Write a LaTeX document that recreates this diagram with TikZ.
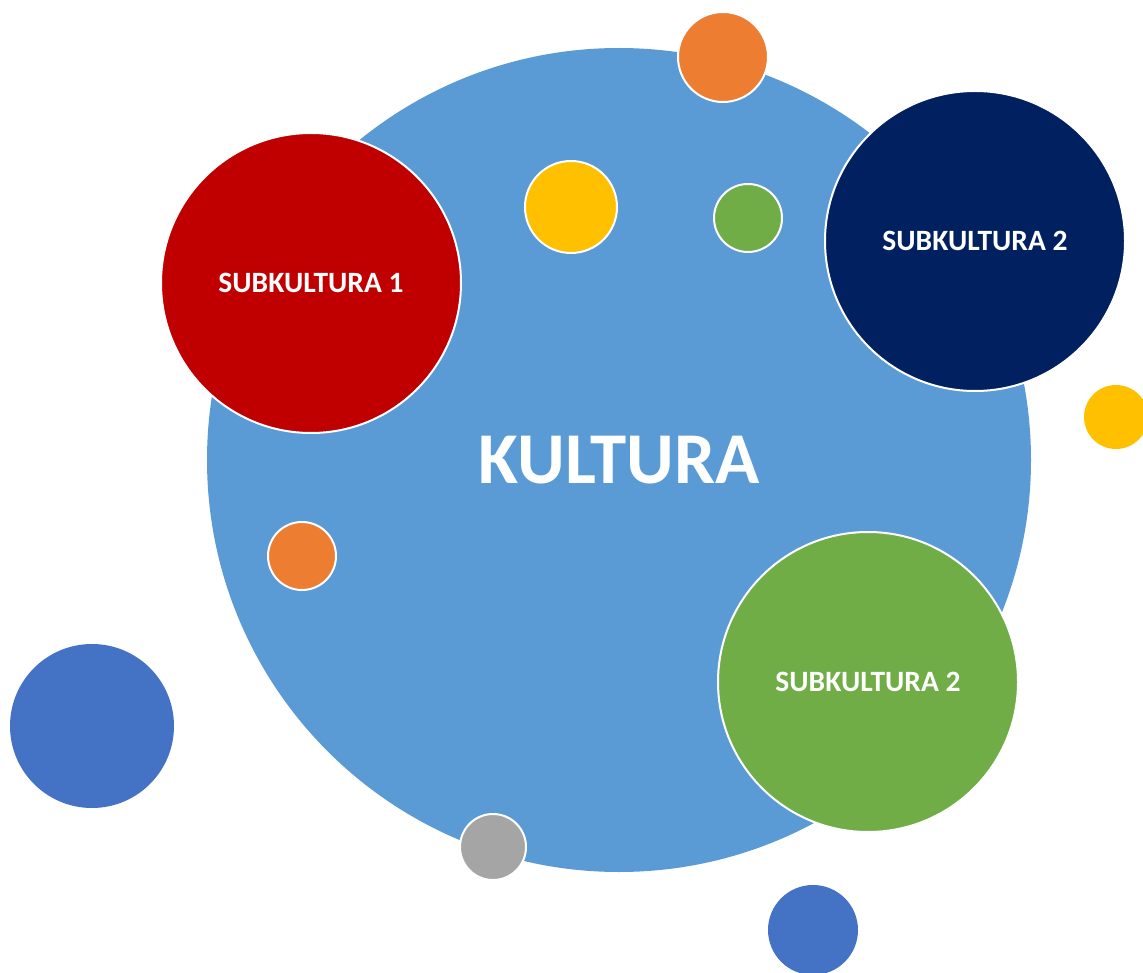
\documentclass[tikz,border=0pt]{standalone}
\usepackage{fontspec}
\setmainfont{Carlito}
\definecolor{kblue}{HTML}{5B9BD5}
\definecolor{kred}{HTML}{C00000}
\definecolor{knavy}{HTML}{002060}
\definecolor{kgreen}{HTML}{70AD47}
\definecolor{korange}{HTML}{ED7D31}
\definecolor{kyellow}{HTML}{FFC000}
\definecolor{kgray}{HTML}{A5A5A5}
\definecolor{kdeep}{HTML}{4472C4}
\begin{document}
\begin{tikzpicture}
[x=1pt,y=-1pt,%
  every node/.style={shape=circle,inner sep=0pt,draw=white,line width=2pt,text=white,font=\bfseries},%
  dot/.style 2 args={fill=#1,minimum size=#2}]
\useasboundingbox (0,0) rectangle (1143,973);
\node[dot={kblue}{824pt},draw=none] (kultura) at (619,460) {\fontsize{73}{78}\selectfont KULTURA};
\node[dot={korange}{90pt}] (o1) at (723,57) {};
\node[dot={kyellow}{92pt}] (y1) at (571,207) {};
\node[dot={kgreen}{68pt}] (g1) at (748,218) {};
\node[dot={korange}{68pt}] (o2) at (302,556) {};
\node[dot={kgray}{66pt}] (gr) at (493,847) {};
\node[dot={kyellow}{64pt},draw=none] (y2) at (1116,417) {};
\node[dot={kdeep}{164pt},draw=none] (b1) at (92,726) {};
\node[dot={kdeep}{90pt},draw=none] (b2) at (813,930) {};
% subkultury
\node[dot={kred}{300pt}] (sub1) at (311,283) {\fontsize{29.5}{34}\selectfont SUBKULTURA 1};
\node[dot={knavy}{300pt}] (sub2) at (975,241) {\fontsize{29.5}{34}\selectfont SUBKULTURA 2};
\node[dot={kgreen}{300pt}] (sub3) at (868,682) {\fontsize{29.5}{34}\selectfont SUBKULTURA 2};
\end{tikzpicture}
\end{document}
